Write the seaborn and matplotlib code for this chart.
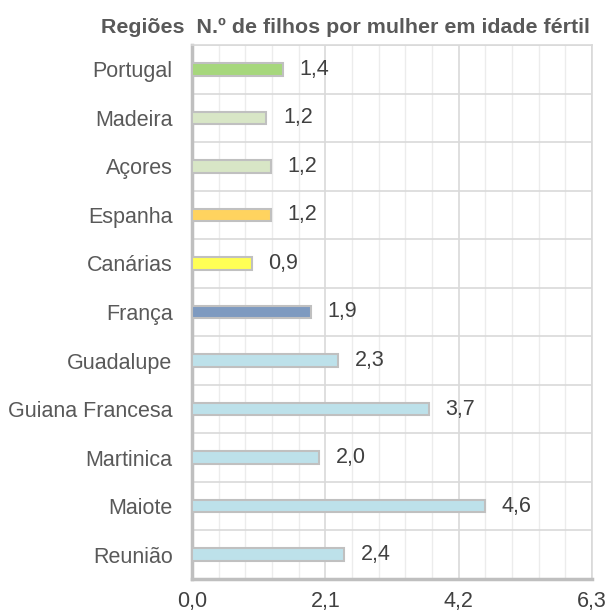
import matplotlib
matplotlib.use("Agg")
import matplotlib.pyplot as plt
import seaborn as sns
import pandas as pd
from matplotlib.ticker import MultipleLocator, FixedLocator

regions = ["Portugal", "Madeira", "Açores", "Espanha", "Canárias", "França",
           "Guadalupe", "Guiana Francesa", "Martinica", "Maiote", "Reunião"]
values = [1.43, 1.17, 1.24, 1.24, 0.94, 1.87, 2.30, 3.73, 2.00, 4.61, 2.39]
labels = ["1,4", "1,2", "1,2", "1,2", "0,9", "1,9", "2,3", "3,7", "2,0", "4,6", "2,4"]
colors = ["#a6d77c", "#d8e6c6", "#d8e6c6", "#ffd35f", "#ffff55", "#7e9ac0",
          "#bde1ea", "#bde1ea", "#bde1ea", "#bde1ea", "#bde1ea"]
xticks = [0.0, 2.1, 4.2, 6.3]
xtick_labels = ["0,0", "2,1", "4,2", "6,3"]
title = "Regiões  N.º de filhos por mulher em idade fértil"

sns.set_theme(style="white")
plt.rcParams["font.family"] = ["Liberation Sans", "DejaVu Sans"]

df = pd.DataFrame({"Região": regions, "Valor": values})

fig = plt.figure(figsize=(6.09, 6.14), dpi=100)
ax = fig.add_axes([192/609, 1-579/614, 400/609, 534/614])

sns.barplot(data=df, y="Região", x="Valor", hue="Região", palette=colors,
            saturation=1, orient="h", width=0.26, edgecolor="#c0c0c0",
            linewidth=1.5, legend=False, ax=ax, zorder=3)

ax.set_xlim(0, 6.3)
ax.set_ylim(len(regions) - 0.5, -0.5)
ax.xaxis.set_major_locator(FixedLocator(xticks))
ax.set_xticklabels(xtick_labels)
ax.xaxis.set_minor_locator(MultipleLocator(0.42))
ax.yaxis.set_minor_locator(FixedLocator([i + 0.5 for i in range(-1, len(regions))]))
ax.grid(which="major", axis="x", color="#d9d9d9", linewidth=1.2, zorder=0)
ax.grid(which="minor", axis="x", color="#ececec", linewidth=1.0, zorder=0)
ax.grid(which="minor", axis="y", color="#d9d9d9", linewidth=1.2, zorder=0)
ax.set_axisbelow(True)

for s in ["top", "right"]:
    ax.spines[s].set_color("#d9d9d9")
    ax.spines[s].set_linewidth(1.2)
for s in ["left", "bottom"]:
    ax.spines[s].set_color("#bfbfbf")
    ax.spines[s].set_linewidth(2.5)

ax.tick_params(axis="both", which="both", length=0)
ax.tick_params(axis="x", labelsize=15.5, labelcolor="#404040", pad=9)
ax.tick_params(axis="y", labelsize=15.5, labelcolor="#595959", pad=14)
ax.set_xlabel("")
ax.set_ylabel("")

for i, (v, lab) in enumerate(zip(values, labels)):
    ax.annotate(lab, xy=(v, i), xytext=(12, 0), textcoords="offset points",
                va="center", ha="left", fontsize=15.5, color="#404040")

fig.text(345/609, 1-27/614, title, ha="center", va="center",
         fontsize=15.4, fontweight="bold", color="#595959")

fig.savefig("out.png", dpi=100)
